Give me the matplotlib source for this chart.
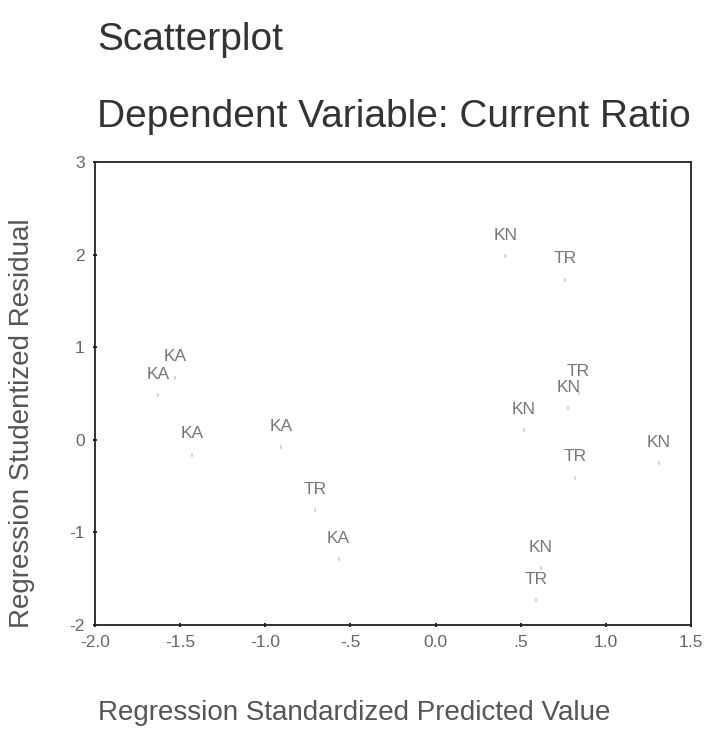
import numpy as np
import matplotlib.pyplot as plt

plt.rcParams['font.family'] = ['Liberation Sans', 'DejaVu Sans']
plt.rcParams['axes.unicode_minus'] = False

# Case labels and their coordinates
labels = ['KN', 'TR', 'KA', 'KA', 'KA', 'KA', 'TR', 'KN',
          'KN', 'KN', 'TR', 'TR', 'KA', 'KN', 'TR']
pred = [0.41, 0.76, -1.53, -1.63, -1.43, -0.91, 0.84, 0.78,
        0.52, 1.31, 0.82, -0.71, -0.57, 0.62, 0.59]
resid = [1.98, 1.73, 0.67, 0.48, -0.16, -0.08, 0.51, 0.34,
         0.10, -0.25, -0.41, -0.76, -1.29, -1.39, -1.73]

xticks = [-2.0, -1.5, -1.0, -0.5, 0.0, 0.5, 1.0, 1.5]
xticklabels = ['-2.0', '-1.5', '-1.0', '-.5', '0.0', '.5', '1.0', '1.5']
yticks = [-2, -1, 0, 1, 2, 3]

fig = plt.figure(figsize=(7.05, 7.3), dpi=100)
ax = fig.add_axes([0.135, 0.144, 0.845, 0.634])

ax.scatter(pred, resid, s=10, color='#d8d8d8', marker='|')
for lab, x, y in zip(labels, pred, resid):
    ax.annotate(lab, (x, y), xytext=(0, 15), textcoords='offset points',
                ha='center', va='center', fontsize=12.5, color='#777777')

ax.set_xlim(-2.0, 1.5)
ax.set_ylim(-2.0, 3.0)
ax.set_xticks(xticks)
ax.set_xticklabels(xticklabels)
ax.set_yticks(yticks)
ax.tick_params(labelsize=12.5, labelcolor='#666666', length=3, width=1.2,
               direction='inout', pad=6)
for s in ax.spines.values():
    s.set_linewidth(1.3)
    s.set_color('#222222')

fig.text(0.502, 0.023, 'Regression Standardized Predicted Value',
         fontsize=20, color='#555555', ha='center', va='center')
fig.text(0.031, 0.42, 'Regression Studentized Residual', fontsize=20,
         color='#555555', ha='center', va='center', rotation=90)

fig.text(0.138, 0.945, 'Scatterplot', fontsize=28, color='#333333',
         ha='left', va='center')
fig.text(0.138, 0.84, 'Dependent Variable: Current Ratio', fontsize=28,
         color='#333333', ha='left', va='center')

fig.savefig('out.png', dpi=100)
